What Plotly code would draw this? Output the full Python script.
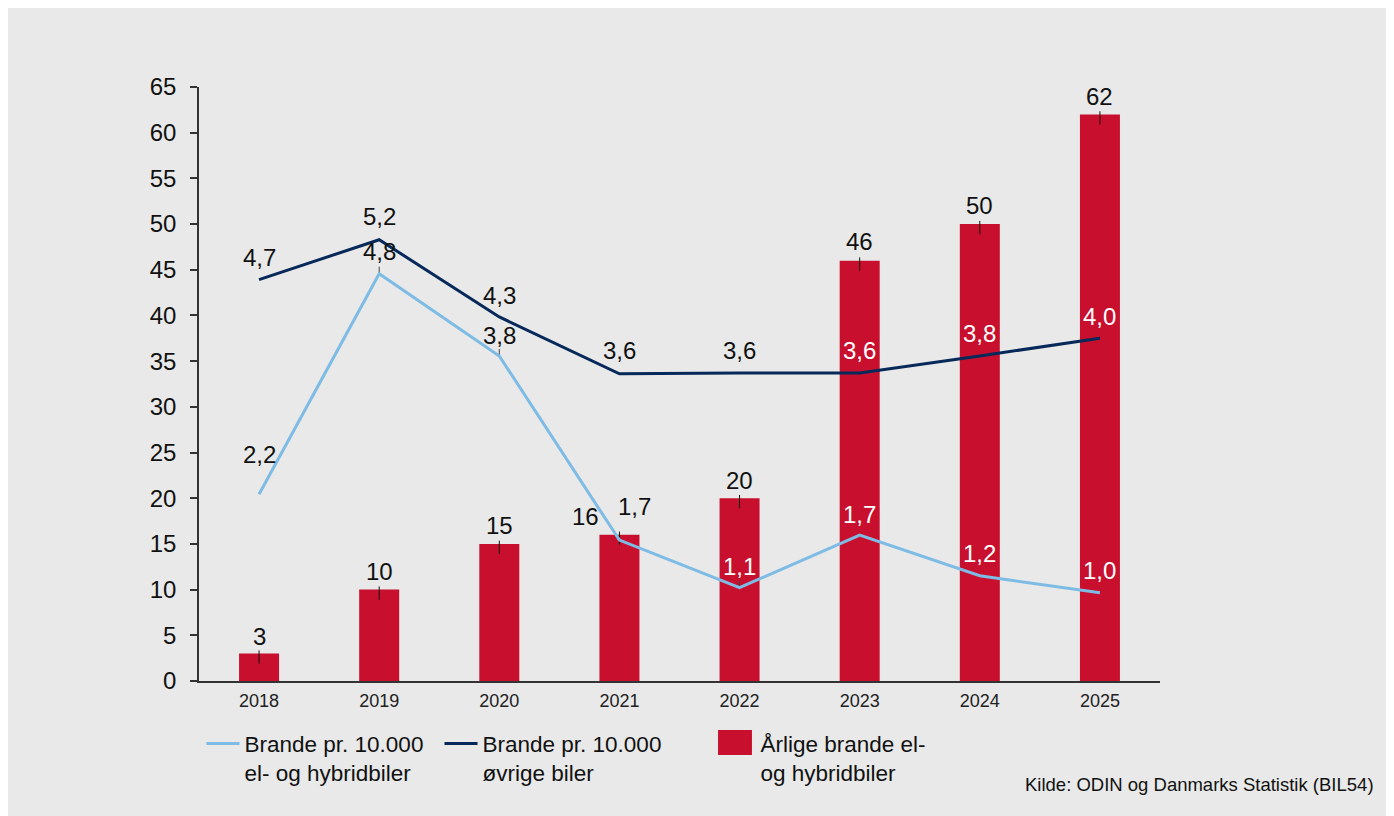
import plotly.graph_objects as go

# ---- data ----
years = ["2018", "2019", "2020", "2021", "2022", "2023", "2024", "2025"]
annual_fires = [3, 10, 15, 16, 20, 46, 50, 62]                  # Årlige brande el- og hybridbiler
ev_rate = [2.20, 4.80, 3.83, 1.66, 1.10, 1.72, 1.24, 1.04]      # Brande pr. 10.000 el- og hybridbiler
other_rate = [4.73, 5.20, 4.29, 3.62, 3.63, 3.63, 3.83, 4.04]   # Brande pr. 10.000 øvrige biler
y_ticks = list(range(0, 70, 5))

names = ["Brande pr. 10.000<br>el- og hybridbiler",
         "Brande pr. 10.000<br>øvrige biler",
         "Årlige brande el-<br>og hybridbiler"]
source = "Kilde: ODIN og Danmarks Statistik (BIL54)"

# ---- style ----
FONT = "Liberation Sans, Arial, sans-serif"
BG = "#e8e9e8"
RED = "#c8102e"
LIGHT = "#7ebbe5"
NAVY = "#06295a"
AXIS = "#333333"
Y1_MAX, Y2_MAX = 65, 7
PX_PER_UNIT = 594 / 65
LBL = 24

def fmt(v):
    return f"{v:.1f}".replace(".", ",")

fig = go.Figure()
fig.add_trace(go.Bar(x=years, y=annual_fires, name=names[2],
                     marker=dict(color=RED, line=dict(width=0)), width=0.333,
                     legendrank=3, legendwidth=200,
                     error_y=dict(type="data", symmetric=False, array=[0.35] * len(years),
                                  arrayminus=[1.1] * len(years), width=0, thickness=1,
                                  color="#111")))
leader = 7 * Y2_MAX / 594  # small leader ticks above some label points (px -> y2 units)
fig.add_trace(go.Scatter(x=years, y=ev_rate, name=names[0], mode="lines",
                         line=dict(color=LIGHT, width=3), yaxis="y2",
                         legendrank=1, legendwidth=190,
                         error_y=dict(type="data", symmetric=False,
                                      array=[0, leader, leader, 0, leader, 0, 0, 0],
                                      arrayminus=[0] * len(years), width=0, thickness=1,
                                      color="#444")))
fig.add_trace(go.Scatter(x=years, y=other_rate, name=names[1], mode="lines",
                         line=dict(color=NAVY, width=3), yaxis="y2",
                         legendrank=2, legendwidth=230))

annotations = []
# bar value labels (x given as category index)
bar_shift = [17, 18, 18, 18, 18, 19, 19, 18]
bar_xshift = [0, 0, 0, -34, 0, 0, 0, 0]
for i, v in enumerate(annual_fires):
    annotations.append(dict(x=i, y=v, xref="x", yref="y", text=str(v), showarrow=False,
                            yanchor="middle", yshift=bar_shift[i], xshift=bar_xshift[i],
                            font=dict(size=LBL, color="#111", family=FONT)))

def line_labels(vals, shifts, xshifts):
    for i, v in enumerate(vals):
        label_units = v * Y1_MAX / Y2_MAX + shifts[i] / PX_PER_UNIT
        color = "white" if label_units < annual_fires[i] else "#111"
        annotations.append(dict(x=i, y=v, xref="x", yref="y2", text=fmt(v), showarrow=False,
                                yanchor="middle", yshift=shifts[i], xshift=xshifts[i],
                                font=dict(size=LBL, color=color, family=FONT)))

line_labels(ev_rate, [40, 22, 21, 34, 21, 21, 22, 22], [0, 0, 0, 15, 0, 0, 0, 0])
line_labels(other_rate, [22, 23, 21, 23, 22, 22, 23, 22], [0] * 8)

annotations.append(dict(x=1.2248, y=-0.175, xref="paper", yref="paper", text=source,
                        showarrow=False, xanchor="right", yanchor="middle",
                        font=dict(size=18.5, color="#111", family=FONT)))

shapes = [
    # x-axis line extension to the left of the y axis
    dict(type="line", xref="paper", yref="paper", x0=-0.0084, x1=0, y0=0, y1=0,
         line=dict(color=AXIS, width=1.5)),
    # larger legend swatch for the bars
    dict(type="rect", xref="paper", yref="paper", x0=0.5401, x1=0.5754, y0=-0.1246, y1=-0.0825,
         fillcolor=RED, line=dict(width=0)),
]

fig.update_layout(
    width=1394, height=816,
    margin=dict(l=191, r=242, t=79, b=143),
    paper_bgcolor=BG, plot_bgcolor=BG,
    font=dict(family=FONT, color="#111"),
    barmode="overlay",
    xaxis=dict(type="category", showline=True, linecolor=AXIS, linewidth=1.5,
               ticks="", showgrid=False, zeroline=False, range=[-0.5, 7.5],
               ticklabelstandoff=3,
               tickfont=dict(size=18, color="#222")),
    yaxis=dict(range=[0, Y1_MAX], tickvals=y_ticks, showline=True, linecolor=AXIS,
               linewidth=1.5, ticks="outside", ticklen=7, tickcolor=AXIS, tickwidth=1.5,
               ticklabelstandoff=9,
               showgrid=False, zeroline=False, tickfont=dict(size=24, color="#111")),
    yaxis2=dict(range=[0, Y2_MAX], overlaying="y", side="right", visible=False,
                showgrid=False, zeroline=False),
    showlegend=True,
    legend=dict(orientation="h", x=0.0026, y=-0.0696, xanchor="left", yanchor="top",
                valign="top", font=dict(size=22.5, color="#111", family=FONT),
                bgcolor="rgba(0,0,0,0)", itemwidth=33),
    annotations=annotations,
    shapes=shapes,
)

fig.write_html("out.html")
